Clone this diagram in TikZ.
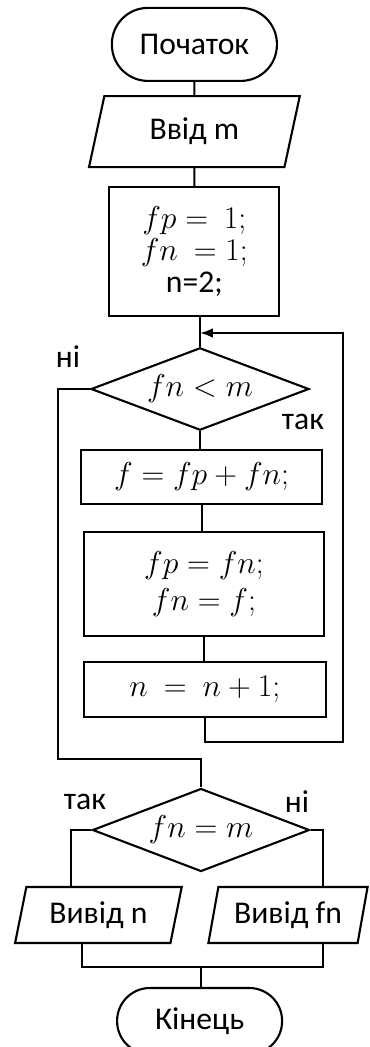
\RequirePackage{fix-cm}
\documentclass[tikz,border=0pt]{standalone}
\usepackage{amsmath}
\usepackage{fontspec}
\setmainfont{Carlito}
\usepackage{tikz}
\usetikzlibrary{shapes.geometric, arrows.meta, positioning, calc}

\begin{document}
\begin{tikzpicture}[
    every node/.style={font=\fontsize{22.5}{27}\selectfont},
    box/.style={rectangle, draw, line width=1.5pt, align=center, inner sep=2pt},
    termbox/.style={box, rounded corners=0.9cm, minimum width=4.125cm, minimum height=1.825cm},
    procbox/.style={box},
    iobox/.style={trapezium, draw, line width=1.5pt, trapezium left angle=76, trapezium right angle=104,
        trapezium stretches=true, minimum height=1.4cm, inner sep=2pt},
    decbox/.style={diamond, draw, line width=1.5pt, inner sep=0pt, aspect=2.65,
        minimum width=5.45cm, minimum height=2.06cm},
    line/.style={line width=1.5pt},
    myarrow/.style={line, -{Latex[length=3.2mm, width=2.4mm]}},
    lbl/.style={font=\fontsize{22.5}{27}\selectfont}
]
\useasboundingbox (0,0) rectangle (9.225,-26.175);

% ── Start, input, initial values ──
\node[termbox] (start) at (4.86, -1.11) {Початок};
\node[iobox, minimum width=5.275cm, minimum height=1.775cm] (input) at (4.86, -3.29) {Ввід m};
\node[procbox, minimum width=4.25cm, minimum height=3.225cm] (init) at (4.86, -6.29)
    {$fp=\ 1;$\\[-4pt] $fn\ =1;$\\[-4pt] n=2;};

\draw[line] (start) -- (input);
\draw[line] (input) -- (init);

% ── Loop ──
\coordinate (merge) at (5.0, -8.325);
\node[decbox] (cond1) at (5.0, -9.725) {$fn<m$};
\node[procbox, minimum width=6.025cm, minimum height=1.35cm] (calc1) at (5.04, -11.925) {$f=fp+fn;$};
\node[procbox, minimum width=6.0cm, minimum height=2.6cm] (calc2) at (5.1, -14.6)
    {$fp=fn;$\\[-1pt] $fn=f;$};
\node[procbox, minimum width=6.05cm, minimum height=1.375cm] (calc3) at (5.12, -17.24) {$n\ =\ n+1;$};

\node[lbl] at (1.7, -8.925) {ні};
\node[lbl] at (7.575, -10.55) {так};

\coordinate (loopc) at (8.575, -18.55);
\coordinate (noleft) at (1.45, -18.975);

\draw[line] (init.south -| merge) -- (cond1.north);
\draw[line] (cond1.south) -- (cond1.south |- calc1.north);
\draw[line] (calc1.south) -- (calc1.south |- calc2.north);
\draw[line] (calc2.south) -- (calc2.south |- calc3.north);
\draw[myarrow] (calc3.south) |- (loopc) |- (merge);

% ── Result check ──
\node[decbox, minimum width=5.425cm, minimum height=2.075cm] (cond2) at (5.025, -20.75) {$fn=m$};
\node[lbl] at (2.125, -20.05) {так};
\node[lbl] at (7.425, -20.05) {ні};

\node[iobox, minimum width=4.175cm] (out1) at (2.46, -22.875) {Вивід n};
\node[iobox, minimum width=4.0cm] (out2) at (7.2, -22.875) {Вивід fn};
\node[termbox, minimum height=1.65cm, rounded corners=0.82cm] (finish) at (4.99, -25.525) {Кінець};

\coordinate (o1top) at (1.775, -22.175);
\coordinate (o2top) at (8.075, -22.175);
\coordinate (o1bot) at (2.05, -23.575);
\coordinate (o2bot) at (8.075, -23.575);
\coordinate (joinb) at (5.02, -24.175);

\draw[line] (cond1.west) -| (noleft) -| (cond2.north);
\draw[line] (cond2.west) -| (o1top);
\draw[line] (cond2.east) -| (o2top);
\draw[line] (o1bot) |- (joinb);
\draw[line] (o2bot) |- (joinb);
\draw[line] (joinb) -- (joinb |- finish.north);

\end{tikzpicture}
\end{document}
